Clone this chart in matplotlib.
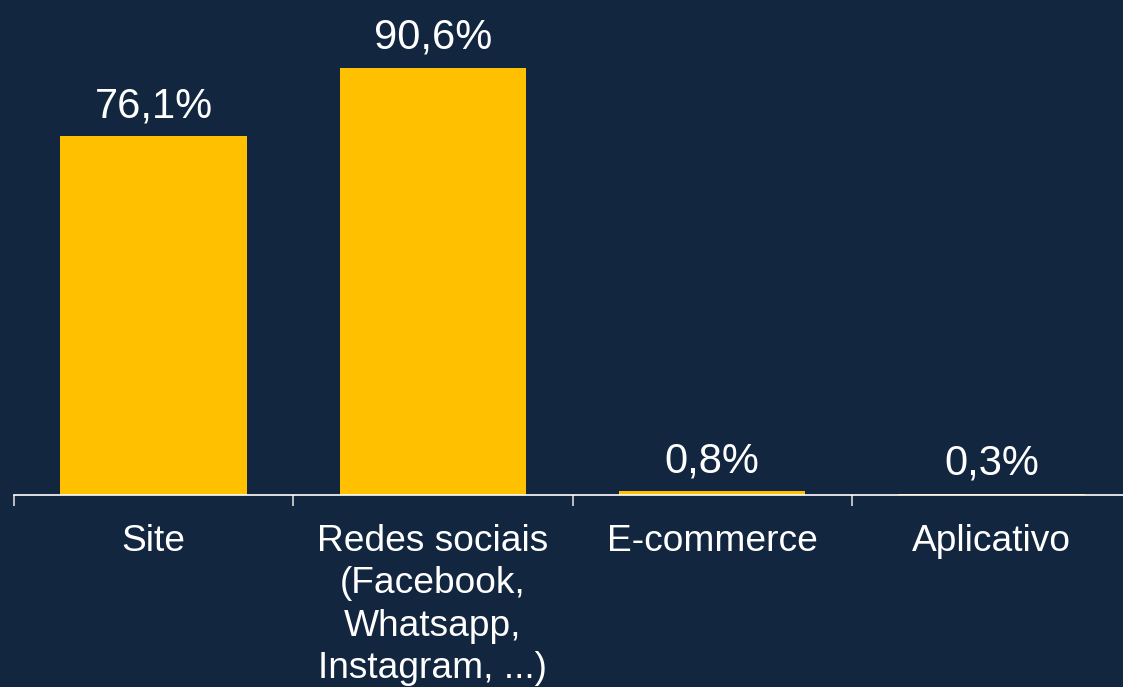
import numpy as np
import matplotlib
matplotlib.use("Agg")
from matplotlib import pyplot as plt

plt.rcParams['font.family'] = ['Liberation Sans', 'DejaVu Sans']

# data
categorias = ['Site', 'Redes sociais\n(Facebook,\nWhatsapp,\nInstagram, ...)', 'E-commerce', 'Aplicativo']
valores = [76.1, 90.6, 0.8, 0.3]
rotulos = ['76,1%', '90,6%', '0,8%', '0,3%']

bg = '#122640'
amarelo = '#FFC000'

fig = plt.figure(figsize=(11.23, 6.87), dpi=100, facecolor=bg)
ax = fig.add_axes([14/1123, 1 - 495/687, 1117/1123, 471.7/687])
ax.set_facecolor(bg)

x = np.arange(len(categorias))
bars = ax.bar(x, valores, width=0.667, color=amarelo, zorder=2)

for xi, v, r in zip(x, valores, rotulos):
    ax.annotate(r, (xi, v), xytext=(0, 13.7), textcoords='offset points',
                ha='center', va='baseline', fontsize=30, color='white')

ax.set_xlim(-0.5, len(categorias) - 0.5)
ax.set_ylim(0, 100)

# labels at centres, tick marks at category borders
ax.set_xticks(x)
ax.set_xticklabels(categorias, fontsize=26.7, color='white', linespacing=1.27)
ax.tick_params(axis='x', which='major', length=0, pad=21)
ax.set_xticks(np.arange(len(categorias) + 1) - 0.5, minor=True)
ax.tick_params(axis='x', which='minor', length=8, width=1.2, color='#d9d9d9')
ax.set_yticks([])

for s in ['top', 'right', 'left']:
    ax.spines[s].set_visible(False)
ax.spines['bottom'].set_color('white')
ax.spines['bottom'].set_linewidth(1.2)
ax.spines['bottom'].set_zorder(3)

fig.savefig('out.png', dpi=100, facecolor=bg)
